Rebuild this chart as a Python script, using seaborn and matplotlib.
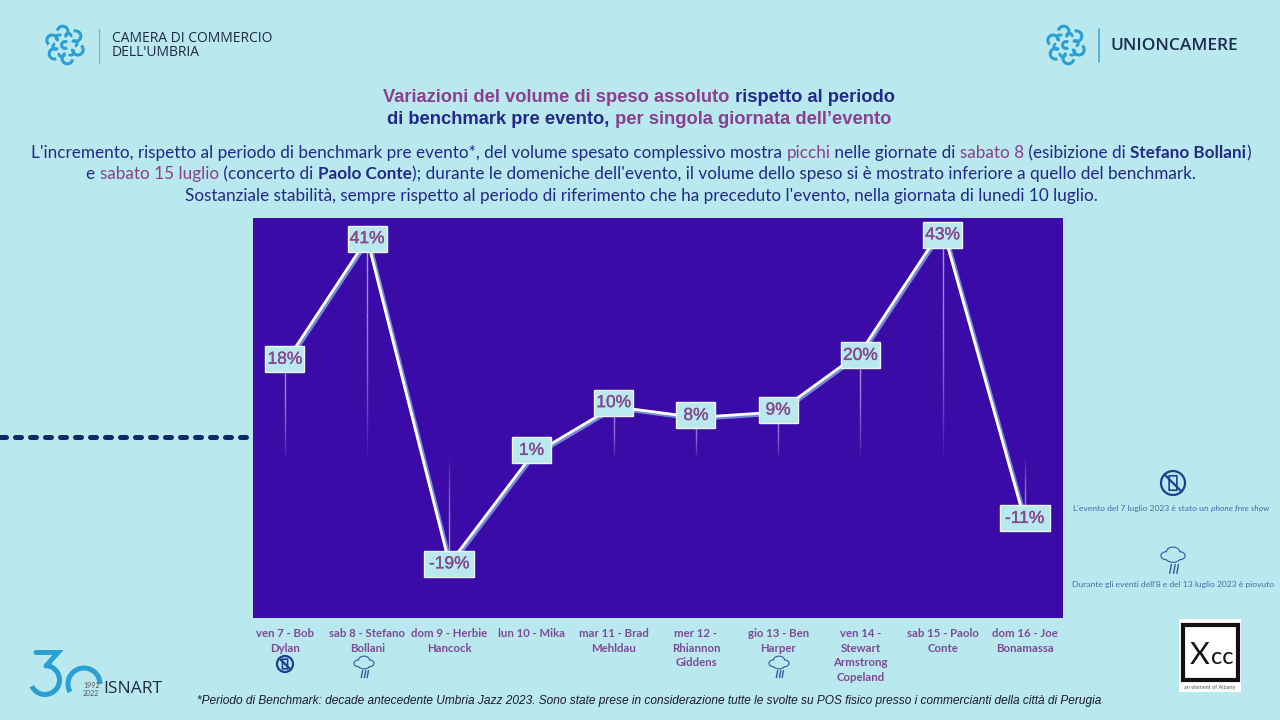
import matplotlib
matplotlib.use('Agg')
import matplotlib.pyplot as plt
import numpy as np
import pandas as pd
import seaborn as sns
from matplotlib.lines import Line2D
from matplotlib.path import Path
from matplotlib.patches import Arc, Circle, Ellipse, Rectangle, FancyBboxPatch
from matplotlib import patheffects as pe

days = ['ven 7 - Bob\nDylan', 'sab 8 - Stefano\nBollani', 'dom 9 - Herbie\nHancock', 'lun 10 - Mika',
        'mar 11 - Brad\nMehldau', 'mer 12 -\nRhiannon\nGiddens', 'gio 13 - Ben\nHarper',
        'ven 14 -\nStewart\nArmstrong\nCopeland', 'sab 15 - Paolo\nConte', 'dom 16 - Joe\nBonamassa']
variation = [18, 41, -19, 1, 10, 8, 9, 20, 43, -11]
# small vertical nudges of the value boxes, in pixels
label_nudge = [4, 0, 0, 5, 4, 2, 2, -3, -7, 2]

BG = '#b9e8ee'
PLOT = '#3a0ba6'
PURPLE = '#8a3f8f'
NAVY = '#22298a'
TICK = '#7d4a98'
BLUE = '#2a9fd6'

sns.set_theme(style='white')

df = pd.DataFrame({'pos': range(len(days)), 'variation': variation})

fig = plt.figure(figsize=(12.8, 7.2), dpi=100, facecolor=BG)
ax = fig.add_axes([253 / 1280, 1 - 618 / 720, 810 / 1280, 400 / 720], facecolor=PLOT)

# thin lines fading towards the zero level
for x, v in zip(df['pos'], df['variation']):
    steps = np.linspace(v, 0.5, 31)
    for i in range(30):
        ax.plot([x, x], [steps[i], steps[i + 1]], color='#b9a6ee', lw=1,
                alpha=0.9 * (1 - (i / 30) ** 2), solid_capstyle='butt', zorder=1)

sns.lineplot(data=df, x='pos', y='variation', ax=ax, color='white', lw=2.0, zorder=2,
             path_effects=[pe.Stroke(linewidth=3.2, foreground='#7388d8', offset=(0.9, -0.9)), pe.Normal()])


def value_box(x0, y0, w, h, mutation_size):
    # fixed height box: two widths, short labels and the negative ones
    bw = 39 if w < 37 else 50
    bh = 26
    cx, cy = x0 + w / 2, y0 + h / 2
    left, right, low, up = cx - bw / 2, cx + bw / 2, cy - bh / 2, cy + bh / 2
    return Path([(left, low), (right, low), (right, up), (left, up), (left, low)], closed=True)


for x, v, dy in zip(df['pos'], df['variation'], label_nudge):
    lab = ax.annotate(f'{v}%', (x, v), xytext=(0, dy * 0.72), textcoords='offset points', ha='center', va='center',
                      fontsize=12.5, fontfamily='Liberation Sans', color='#84498f', zorder=3,
                      path_effects=[pe.withStroke(linewidth=0.25, foreground='#84498f')],
                      bbox=dict(fc=BG, ec='#e8f6f8', lw=1))
    lab.get_bbox_patch().set_boxstyle(value_box)

ax.set_xlim(-0.389, 9.465)
ax.set_ylim(-29.0, 44.8)
ax.set_xticks(df['pos'])
ax.set_xticklabels(days, fontfamily='Lato', fontweight='bold', fontsize=8.2, color=TICK, linespacing=1.38)
ax.set_yticks([])
ax.set_xlabel('')
ax.set_ylabel('')
ax.tick_params(axis='x', length=0, pad=7.5)
for s in ax.spines.values():
    s.set_visible(False)

# overlay in pixel units for texts, logos and icons
ov = fig.add_axes([0, 0, 1, 1], facecolor='none', zorder=5)
ov.set_xlim(0, 1280)
ov.set_ylim(720, 0)
ov.axis('off')


def text_width(s, **kw):
    r = fig.canvas.get_renderer()
    a = ov.text(0, 0, 'x' + s + 'x', **kw)
    b = ov.text(0, 0, 'xx', **kw)
    w = a.get_window_extent(r).width - b.get_window_extent(r).width
    a.remove()
    b.remove()
    return w


def rich_line(parts, cx, y, size, family, weight='normal'):
    # parts are (text, colour, extra props), placed one after the other and centred on cx
    widths = []
    for s, c, extra in parts:
        kw = dict(fontsize=size, fontfamily=family, fontweight=weight)
        kw.update(extra)
        widths.append(text_width(s, **kw))
    x = cx - sum(widths) / 2
    for (s, c, extra), w in zip(parts, widths):
        kw = dict(fontsize=size, fontfamily=family, fontweight=weight)
        kw.update(extra)
        ov.text(x, y, s, color=c, ha='left', va='center', **kw)
        x += w


BOLD = {'fontweight': 'bold'}
ITAL = {'fontstyle': 'italic'}

rich_line([('Variazioni del volume di speso assoluto', PURPLE, {}), (' rispetto al periodo', NAVY, {})],
          639, 97, 13.2, 'Liberation Sans', 'bold')
rich_line([('di benchmark pre evento,', NAVY, {}), (' per singola giornata dell\u2019evento', PURPLE, {})],
          639, 120, 13.2, 'Liberation Sans', 'bold')

rich_line([("L'incremento, rispetto al periodo di benchmark pre evento*, del volume spesato complessivo mostra ", NAVY, {}),
           ('picchi', PURPLE, {}), (' nelle giornate di ', NAVY, {}), ('sabato 8', PURPLE, {}),
           (' (esibizione di ', NAVY, {}), ('Stefano Bollani', NAVY, BOLD), (')', NAVY, {})],
          641, 153, 12.3, 'Lato')
rich_line([('e ', NAVY, {}), ('sabato 15 luglio', PURPLE, {}), (' (concerto di ', NAVY, {}),
           ('Paolo Conte', NAVY, BOLD),
           ("); durante le domeniche dell'evento, il volume dello speso si è mostrato inferiore a quello del benchmark.", NAVY, {})],
          641, 174, 12.3, 'Lato')
rich_line([("Sostanziale stabilità, sempre rispetto al periodo di riferimento che ha preceduto l'evento, nella giornata di lunedi 10 luglio.", NAVY, {})],
          641, 196, 12.3, 'Lato')

ov.text(197, 701, '*Periodo di Benchmark: decade antecedente Umbria Jazz 2023. Sono state prese in considerazione '
        'tutte le svolte su POS fisico presso i commercianti della città di Perugia',
        fontfamily='Liberation Sans', fontstyle='italic', fontsize=8.6, color='#1a1a2a', ha='left', va='center')

rich_line([("L'evento del 7 luglio 2023 è stato un ", '#4a6aa5', {}), ('phone free show', '#4a6aa5', ITAL)],
          1171, 508, 6.1, 'Lato')
rich_line([("Durante gli eventi dell'8 e del 13 luglio 2023 è piovuto", '#4a6aa5', {})],
          1173, 585, 6.1, 'Lato')

ov.add_line(Line2D([0, 250], [437, 437], color='#0f2a68', lw=3.6, dashes=(1.2, 1.8), dash_capstyle='round'))


def swirl(cx, cy, r):
    ov.add_patch(Arc((cx, cy), 0.36 * r, 0.36 * r, theta1=50, theta2=310, color=BLUE, lw=2.2))
    for k in range(6):
        deg = 20 + 60 * k
        a = np.radians(deg)
        px, py = cx + 0.72 * r * np.cos(a), cy + 0.72 * r * np.sin(a)
        ov.add_patch(Arc((px, py), 0.56 * r, 0.56 * r, theta1=deg - 70, theta2=deg + 170, color=BLUE, lw=2.2))
        b = np.radians(deg + 30)
        qx, qy = cx + 0.5 * r * np.cos(b), cy + 0.5 * r * np.sin(b)
        ov.add_patch(Arc((qx, qy), 0.3 * r, 0.3 * r, theta1=deg - 60, theta2=deg + 120, color=BLUE, lw=2.0))


swirl(65, 45, 19)
ov.add_line(Line2D([99, 99], [29, 63], color='#7fb8d0', lw=1))
ov.text(112, 38, 'CAMERA DI COMMERCIO', fontfamily='Open Sans', fontsize=10, color='#1d2b44', va='center')
ov.text(112, 53, "DELL'UMBRIA", fontfamily='Open Sans', fontsize=10, color='#1d2b44', va='center')

swirl(1066, 45, 19)
ov.add_line(Line2D([1099, 1099], [29, 62], color='#4aa8d0', lw=1.2))
ov.text(1111, 46, 'UNIONCAMERE', fontfamily='Open Sans', fontweight='semibold', fontsize=12.5, color='#1d2b50', va='center')

# 30 isnart mark
ov.add_line(Line2D([36, 58, 46], [652.5, 652.5, 666], color=BLUE, lw=3.6, solid_joinstyle='miter'))
ov.add_patch(Arc((45, 680), 29, 29, theta1=-90, theta2=155, color=BLUE, lw=3.6))
ov.add_patch(Arc((84, 684), 32, 32, theta1=150, theta2=360, color=BLUE, lw=3.6))
ov.text(83, 686, '1992', fontfamily='Lato', fontsize=5, color='#555555', va='center')
ov.text(83, 693, '2022', fontfamily='Lato', fontsize=5, color='#555555', va='center')
ov.text(103, 689, 'ISNART', fontfamily='Open Sans', fontweight='medium', fontsize=12.5, color='#1d2b44', va='center')

# xcc box
ov.add_patch(Rectangle((1179, 619), 62, 73, fc='white', ec='none'))
ov.add_patch(Rectangle((1183, 625), 55, 55, fc='white', ec='#111111', lw=3))
ov.text(1190, 664, 'X', fontfamily='Lato', fontsize=22, color='#111111', ha='left', va='baseline')
ov.text(1211, 664, 'cc', fontfamily='Lato', fontsize=17, color='#111111', ha='left', va='baseline')
ov.text(1210, 687, 'an element of Albany', fontfamily='Lato', fontsize=4, color='#555555', ha='center', va='center')


def phone_icon(cx, cy, r):
    col = '#1f3f8f'
    ov.add_patch(Circle((cx, cy), r, fc='none', ec=col, lw=1.6))
    ov.add_patch(FancyBboxPatch((cx - 0.32 * r, cy - 0.6 * r), 0.64 * r, 1.2 * r, boxstyle='round,pad=0.02',
                                fc='none', ec=col, lw=1.2))
    ov.add_line(Line2D([cx - 0.7 * r, cx + 0.7 * r], [cy - 0.7 * r, cy + 0.7 * r], color=col, lw=1.6))


def rain_icon(cx, cy, s):
    col = '#2f5a9a'
    lobes = [(-0.6, 0.0, 0.9), (0.0, -0.35, 1.1), (0.6, 0.0, 0.9), (0.0, 0.1, 1.3)]
    # outlines first, then the same shapes in background colour so only the outer edge stays
    for dx, dy, w in lobes:
        ov.add_patch(Ellipse((cx + dx * s, cy - 0.3 * s + dy * s), w * s, 0.7 * w * s, fc='none', ec=col, lw=1.6, zorder=2))
    for dx, dy, w in lobes:
        ov.add_patch(Ellipse((cx + dx * s, cy - 0.3 * s + dy * s), w * s, 0.7 * w * s, fc=BG, ec='none', zorder=3))
    for dx in [-0.3, 0.05, 0.35]:
        ov.add_line(Line2D([cx + dx * s + 0.15 * s, cx + dx * s], [cy + 0.5 * s, cy + 1.3 * s], color=col, lw=1))


phone_icon(1173, 483, 12)
phone_icon(285, 664, 8)
rain_icon(1173, 559, 11)
rain_icon(364, 666, 9)
rain_icon(779, 666, 9)

plt.savefig('out.png', dpi=100, facecolor=BG)
plt.close()
